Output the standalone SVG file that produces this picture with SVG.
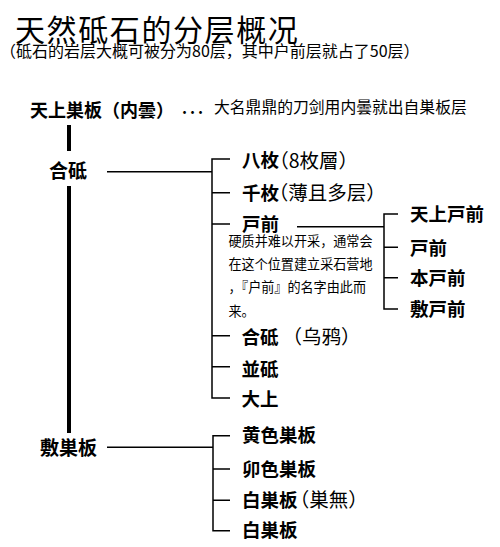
<svg xmlns="http://www.w3.org/2000/svg" width="500" height="547" viewBox="0 0 500 547">
<style>
text{font-family:"Noto Sans CJK SC","Noto Sans CJK JP",sans-serif;fill:#000}
.b{font-weight:bold;font-size:18.5px}
.p{font-size:19.5px}
.h{font-feature-settings:"halt" 1}
.d{font-size:13.1px}
.c{stroke:#000;stroke-width:1.5;fill:none}
</style>
<rect width="500" height="547" fill="#fff"/>
<g id="title">
<text x="15" y="41.2" style="font-size:30px;letter-spacing:1.6px">天然砥石的分层概况</text>
<text x="0" y="57" style="font-size:16px">（砥石的岩层大概可被分为80层，其中户前层就占了50层）</text>
</g>
<g id="connectors">
<path d="M69,125V151 M69,186V433" stroke="#000" stroke-width="4" fill="none"/>
<path class="c" d="M107,171.7H212 M230,159H212V398H230 M212,192.7H230 M212,224H230 M212,335.7H230 M212,366.7H230"/>
<path class="c" d="M297,226.7H384 M398,214H384V309H398 M384,247.3H398 M384,277.7H398"/>
<path class="c" d="M107,447.3H213 M230,435.7H213V530.7H230 M213,469H230 M213,500.3H230"/>
</g>
<g id="n-tenjou">
<text x="30" y="116.7" style="font-size:18px;font-weight:bold">天上巣板（内曇）</text>
<text x="182" y="113.5" style="font-size:15.5px;font-weight:bold;letter-spacing:3px">...</text>
<text x="214" y="113.2" style="font-size:15.8px">大名鼎鼎的刀剑用内曇就出自巣板层</text>
</g>
<g id="n-awase"><text class="b" x="49" y="178" style="font-size:19px">合砥</text></g>
<g id="n-hachimai"><text class="b" x="242" y="167.4">八枚</text><text class="p h" x="279" y="167.6">（8枚層）</text></g>
<g id="n-senmai"><text class="b" x="242" y="199.7">千枚</text><text class="p h" x="278.5" y="200">（薄且多层）</text></g>
<g id="n-tomae"><text class="b" x="242" y="230.7">戸前</text>
<text class="d" x="228.5" y="246">硬质并难以开采，通常会</text>
<text class="d" x="228.5" y="269">在这个位置建立采石营地</text>
<text class="d" x="228.5" y="292">，『户前』的名字由此而</text>
<text class="d" x="228.5" y="315.5">来。</text>
</g>
<g id="n-tenjoutomae"><text class="b" x="410" y="221.4">天上戸前</text></g>
<g id="n-tomae2"><text class="b" x="410" y="254.7">戸前</text></g>
<g id="n-hontomae"><text class="b" x="410" y="284.7">本戸前</text></g>
<g id="n-shikitomae"><text class="b" x="410" y="315.7">敷戸前</text></g>
<g id="n-awase2"><text class="b" x="241.5" y="343.7">合砥</text><text class="p" x="282.5" y="344">（乌鸦）</text></g>
<g id="n-namito"><text class="b" x="241.5" y="376">並砥</text></g>
<g id="n-oue"><text class="b" x="241.5" y="405.7">大上</text></g>
<g id="n-shikisu"><text class="b" x="40" y="455" style="font-size:19px">敷巣板</text></g>
<g id="n-kiiro"><text class="b" x="242" y="441.7">黄色巣板</text></g>
<g id="n-tamago"><text class="b" x="242" y="476.4">卯色巣板</text></g>
<g id="n-shirosu1"><text class="b" x="242" y="506.7">白巣板</text><text class="p h" x="299.5" y="507">（巣無）</text></g>
<g id="n-shirosu2"><text class="b" x="242" y="536.7">白巣板</text></g>
</svg>
